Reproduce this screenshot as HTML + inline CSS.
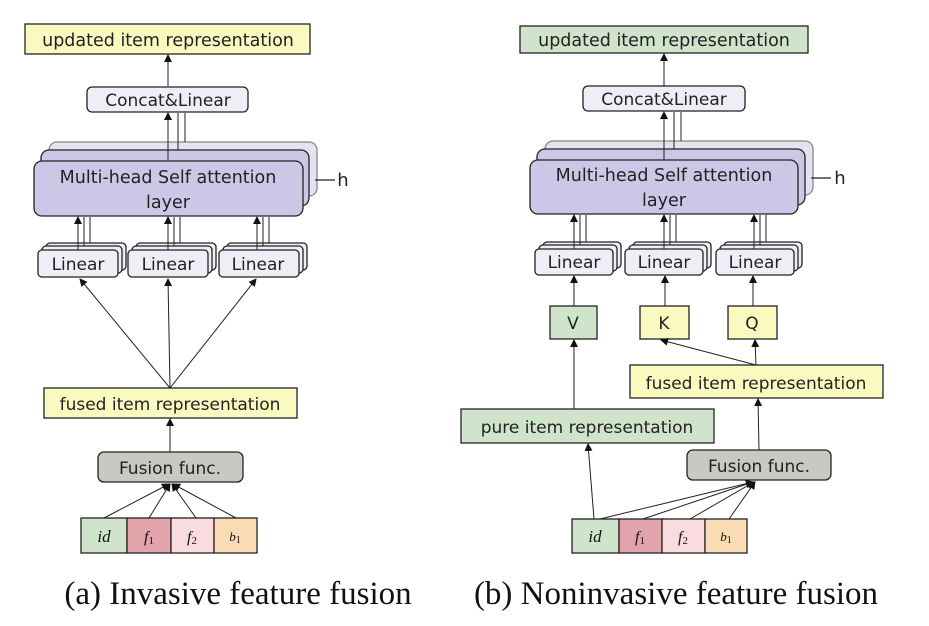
<!DOCTYPE html>
<html><head><meta charset="utf-8"><style>
html,body{margin:0;padding:0;background:#fff;}
svg{display:block;}
.t{font-family:"DejaVu Sans","Liberation Sans",sans-serif;fill:#222;}
.c{font-family:"Liberation Serif",serif;fill:#111;}
</style></head><body>
<svg width="929" height="626" viewBox="0 0 929 626" xmlns="http://www.w3.org/2000/svg">
<defs>
<marker id="a" markerWidth="8" markerHeight="8" refX="7" refY="4" orient="auto" markerUnits="userSpaceOnUse"><path d="M0,0 L8,4 L0,8 z" fill="#111"/></marker>
</defs>
<g stroke="#222" stroke-width="1.3">
<rect x="25" y="24" width="285" height="30" fill="#fafac0"/>
<rect x="87" y="87" width="161" height="25" rx="5" fill="#eeeef6"/>
<rect x="49" y="142" width="268" height="54" rx="8" fill="#e6e2f2" stroke="#888"/>
<rect x="41" y="150" width="268" height="56" rx="8" fill="#cdc6e6"/>
<rect x="34" y="161" width="269" height="55" rx="8" fill="#cdc6e6"/>
<line x1="315" y1="180" x2="335" y2="180"/>
<g fill="#eeeef6">
<rect x="46" y="243" width="80" height="27" rx="4"/><rect x="42" y="246" width="80" height="27" rx="4"/><rect x="38" y="250" width="80" height="27" rx="4"/>
<rect x="136" y="243" width="80" height="27" rx="4"/><rect x="132" y="246" width="80" height="27" rx="4"/><rect x="128" y="250" width="80" height="27" rx="4"/>
<rect x="227" y="243" width="80" height="27" rx="4"/><rect x="223" y="246" width="80" height="27" rx="4"/><rect x="219" y="250" width="80" height="27" rx="4"/>
</g>
<rect x="44" y="388" width="253" height="30" fill="#fafac0"/>
<rect x="98" y="452" width="145" height="30" rx="6" fill="#c9c8c4"/>
<rect x="81" y="518" width="46" height="35" fill="#d0e4cc"/>
<rect x="127" y="518" width="44" height="35" fill="#e0a4aa"/>
<rect x="171" y="518" width="43" height="35" fill="#fadce0"/>
<rect x="214" y="518" width="43" height="35" fill="#fadcb4"/>
<rect x="520" y="26" width="288" height="27" fill="#d0e4cc"/>
<rect x="583" y="86" width="162" height="25" rx="5" fill="#eeeef6"/>
<rect x="545" y="141" width="268" height="54" rx="8" fill="#e6e2f2" stroke="#888"/>
<rect x="537" y="149" width="268" height="56" rx="8" fill="#cdc6e6"/>
<rect x="530" y="160" width="268" height="54" rx="8" fill="#cdc6e6"/>
<line x1="811" y1="178" x2="831" y2="178"/>
<g fill="#eeeef6">
<rect x="543" y="242" width="78" height="26" rx="4"/><rect x="539" y="245" width="78" height="26" rx="4"/><rect x="535" y="249" width="78" height="26" rx="4"/>
<rect x="633" y="242" width="78" height="26" rx="4"/><rect x="629" y="245" width="78" height="26" rx="4"/><rect x="625" y="249" width="78" height="26" rx="4"/>
<rect x="724" y="242" width="78" height="26" rx="4"/><rect x="720" y="245" width="78" height="26" rx="4"/><rect x="716" y="249" width="78" height="26" rx="4"/>
</g>
<rect x="550" y="306" width="47" height="33" fill="#d0e4cc"/>
<rect x="640" y="306" width="49" height="33" fill="#fafac0"/>
<rect x="728" y="306" width="49" height="33" fill="#fafac0"/>
<rect x="630" y="365" width="253" height="33" fill="#fafac0"/>
<rect x="461" y="409" width="253" height="34" fill="#d0e4cc"/>
<rect x="687" y="450" width="144" height="30" rx="6" fill="#c9c8c4"/>
<rect x="572" y="519" width="47" height="34" fill="#d0e4cc"/>
<rect x="619" y="519" width="43" height="34" fill="#e0a4aa"/>
<rect x="662" y="519" width="43" height="34" fill="#fadce0"/>
<rect x="705" y="519" width="42" height="34" fill="#fadcb4"/>
</g>
<g stroke="#222" stroke-width="1" fill="none">
<line x1="168" y1="86" x2="168" y2="55" marker-end="url(#a)"/>
<line x1="168" y1="160" x2="168" y2="113" marker-end="url(#a)"/>
<line x1="178" y1="113" x2="178" y2="150"/><line x1="185" y1="113" x2="185" y2="142"/>
<line x1="78" y1="250" x2="78" y2="217" marker-end="url(#a)"/><line x1="84" y1="217" x2="84" y2="246"/><line x1="90" y1="217" x2="90" y2="243"/>
<line x1="168" y1="250" x2="168" y2="217" marker-end="url(#a)"/><line x1="174" y1="217" x2="174" y2="246"/><line x1="180" y1="217" x2="180" y2="243"/>
<line x1="257" y1="250" x2="257" y2="217" marker-end="url(#a)"/><line x1="263" y1="217" x2="263" y2="246"/><line x1="269" y1="217" x2="269" y2="243"/>
<line x1="170" y1="388" x2="80" y2="279" marker-end="url(#a)"/>
<line x1="170" y1="388" x2="168" y2="279" marker-end="url(#a)"/>
<line x1="170" y1="388" x2="256" y2="279" marker-end="url(#a)"/>
<line x1="170" y1="452" x2="170" y2="419" marker-end="url(#a)"/>
<line x1="104" y1="518" x2="169" y2="484" marker-end="url(#a)"/>
<line x1="149" y1="518" x2="170" y2="484" marker-end="url(#a)"/>
<line x1="196" y1="518" x2="172" y2="484" marker-end="url(#a)"/>
<line x1="236" y1="518" x2="173" y2="484" marker-end="url(#a)"/>
<line x1="664" y1="86" x2="664" y2="54" marker-end="url(#a)"/>
<line x1="664" y1="160" x2="664" y2="112" marker-end="url(#a)"/>
<line x1="674" y1="112" x2="674" y2="149"/><line x1="681" y1="112" x2="681" y2="141"/>
<line x1="574" y1="249" x2="574" y2="215" marker-end="url(#a)"/><line x1="580" y1="215" x2="580" y2="245"/><line x1="586" y1="215" x2="586" y2="242"/>
<line x1="664" y1="249" x2="664" y2="215" marker-end="url(#a)"/><line x1="670" y1="215" x2="670" y2="245"/><line x1="676" y1="215" x2="676" y2="242"/>
<line x1="754" y1="249" x2="754" y2="215" marker-end="url(#a)"/><line x1="760" y1="215" x2="760" y2="245"/><line x1="766" y1="215" x2="766" y2="242"/>
<line x1="574" y1="306" x2="574" y2="276" marker-end="url(#a)"/>
<line x1="665" y1="306" x2="665" y2="276" marker-end="url(#a)"/>
<line x1="753" y1="306" x2="753" y2="276" marker-end="url(#a)"/>
<line x1="574" y1="409" x2="574" y2="340" marker-end="url(#a)"/>
<line x1="756" y1="365" x2="755" y2="340" marker-end="url(#a)"/>
<line x1="756" y1="365" x2="661" y2="340" marker-end="url(#a)"/>
<line x1="759" y1="450" x2="758" y2="399" marker-end="url(#a)"/>
<line x1="594" y1="519" x2="588" y2="444" marker-end="url(#a)"/>
<line x1="600" y1="519" x2="753" y2="482" marker-end="url(#a)"/>
<line x1="643" y1="519" x2="753" y2="482" marker-end="url(#a)"/>
<line x1="690" y1="519" x2="754" y2="482" marker-end="url(#a)"/>
<line x1="729" y1="519" x2="755" y2="482" marker-end="url(#a)"/>
</g>
<g class="t" text-anchor="middle" font-size="17">
<text x="168" y="46" font-size="17.5">updated item representation</text>
<text x="168" y="106">Concat&amp;Linear</text>
<text x="168" y="183" font-size="17.5">Multi-head Self attention</text>
<text x="168" y="208" font-size="17.5">layer</text>
<text x="78" y="270">Linear</text>
<text x="168" y="270">Linear</text>
<text x="258" y="270">Linear</text>
<text x="170" y="410">fused item representation</text>
<text x="170" y="474">Fusion func.</text>
<text x="343" y="186" font-size="18">h</text>
<text x="664" y="46" font-size="17.5">updated item representation</text>
<text x="664" y="105">Concat&amp;Linear</text>
<text x="664" y="181" font-size="17.5">Multi-head Self attention</text>
<text x="664" y="206" font-size="17.5">layer</text>
<text x="574" y="268">Linear</text>
<text x="664" y="268">Linear</text>
<text x="755" y="268">Linear</text>
<text x="573" y="329">V</text>
<text x="664" y="329">K</text>
<text x="752" y="329">Q</text>
<text x="756" y="389">fused item representation</text>
<text x="587" y="433">pure item representation</text>
<text x="759" y="472">Fusion func.</text>
<text x="840" y="184" font-size="18">h</text>
</g>
<g class="c" text-anchor="middle" font-style="italic">
<text x="104" y="542" font-size="17">id</text>
<text x="149" y="542" font-size="16">f<tspan font-size="11" font-style="normal" dy="2">1</tspan></text>
<text x="192" y="542" font-size="16">f<tspan font-size="11" font-style="normal" dy="2">2</tspan></text>
<text x="235" y="541" font-size="13">b<tspan font-size="10" font-style="normal" dy="2">1</tspan></text>
<text x="595" y="542" font-size="17">id</text>
<text x="640" y="542" font-size="16">f<tspan font-size="11" font-style="normal" dy="2">1</tspan></text>
<text x="683" y="542" font-size="16">f<tspan font-size="11" font-style="normal" dy="2">2</tspan></text>
<text x="726" y="541" font-size="13">b<tspan font-size="10" font-style="normal" dy="2">1</tspan></text>
</g>
<g class="c" text-anchor="middle" font-size="33">
<text x="238" y="604">(a) Invasive feature fusion</text>
<text x="676" y="604">(b) Noninvasive feature fusion</text>
</g>
</svg>
</body></html>
